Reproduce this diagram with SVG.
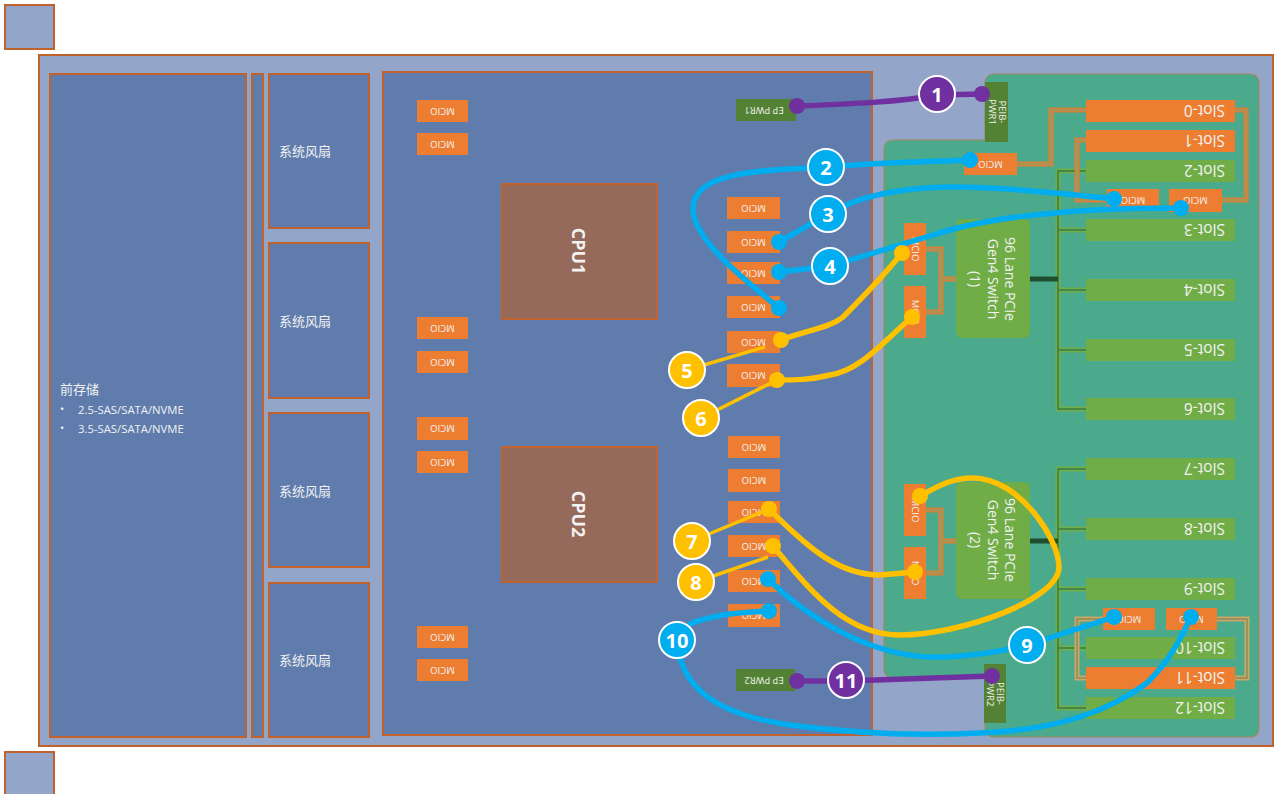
<svg xmlns="http://www.w3.org/2000/svg" width="1274" height="794" viewBox="0 0 1274 794">
<style>
text{font-family:"Open Sans","Noto Sans CJK SC",sans-serif;fill:#f2f2f2}
.box{stroke:#c0622d;stroke-width:2}
.light{fill:#93a5c8}
.mid{fill:#5f7cad}
.cpu{fill:#956a5a;stroke:#c0622d;stroke-width:2}
.o{fill:#ed7d31}
.g{fill:#70ad47}
.d{fill:#548235}
.c{text-anchor:middle;dominant-baseline:central}
.m{font-size:9.5px}
.s{font-size:15.500px;dominant-baseline:central}
.f{font-size:13px}
.sw{font-size:14px;text-anchor:middle}
.lab{font-size:20px;font-weight:700;fill:#fff;text-anchor:middle;dominant-baseline:central}
.ring{stroke:#fff;stroke-width:2}
.t{fill:none;stroke-width:5}
.ti{fill:none;stroke-width:1.500}
.conn{fill:none;stroke-width:5.500;stroke-linecap:round}
.thin{fill:none;stroke-width:3.500}
.pu{stroke:#7030a0}.bl{stroke:#00adef}.ye{stroke:#ffc000}
.fpu{fill:#7030a0}.fbl{fill:#00adef}.fye{fill:#ffc000}
</style>
<g id="chassis-marks">
<rect class="box light" x="5" y="5" width="49" height="44"/>
<rect class="box light" x="5" y="752" width="49" height="50"/>
</g>
<g id="chassis"><rect class="box light" x="39" y="55" width="1234" height="691"/></g>
<g id="front-storage">
<rect class="box mid" x="50" y="74" width="196" height="663"/>
<text x="60" y="394" class="f">前存储</text>
<text x="60" y="413" font-size="11.300">•</text>
<text x="78" y="413.500" font-size="11.300">2.5-SAS/SATA/NVME</text>
<text x="60" y="432" font-size="11.300">•</text>
<text x="78" y="432.500" font-size="11.300">3.5-SAS/SATA/NVME</text>
</g>
<g id="divider"><rect class="box mid" x="252" y="74" width="11" height="663"/></g>
<g id="fan-1"><rect class="box mid" x="269" y="74" width="100" height="154"/><text x="279" y="156" class="f">系统风扇</text></g>
<g id="fan-2"><rect class="box mid" x="269" y="243" width="100" height="155"/><text x="279" y="326" class="f">系统风扇</text></g>
<g id="fan-3"><rect class="box mid" x="269" y="413" width="100" height="154"/><text x="279" y="496" class="f">系统风扇</text></g>
<g id="fan-4"><rect class="box mid" x="269" y="583" width="100" height="154"/><text x="279" y="665" class="f">系统风扇</text></g>
<g id="cpu-board"><rect class="box mid" x="383" y="72" width="489" height="663"/></g>
<g id="cpu1"><rect class="cpu" x="502" y="184" width="155" height="135"/><text transform="translate(579 251) rotate(90)" class="c" font-size="18" font-weight="700" fill="#fff">CPU1</text></g>
<g id="cpu2"><rect class="cpu" x="502" y="447" width="155" height="135"/><text transform="translate(579 514) rotate(90)" class="c" font-size="18" font-weight="700" fill="#fff">CPU2</text></g>

<g id="cpu-mcio">
<g id="mcio-l1"><rect class="o" x="417" y="100" width="51" height="22"/><text transform="translate(442.500 111) rotate(180)" class="c m">MCIO</text></g>
<g id="mcio-l2"><rect class="o" x="417" y="133" width="51" height="22"/><text transform="translate(442.500 144) rotate(180)" class="c m">MCIO</text></g>
<g id="mcio-l3"><rect class="o" x="417" y="317" width="51" height="22"/><text transform="translate(442.500 328) rotate(180)" class="c m">MCIO</text></g>
<g id="mcio-l4"><rect class="o" x="417" y="351" width="51" height="22"/><text transform="translate(442.500 362) rotate(180)" class="c m">MCIO</text></g>
<g id="mcio-l5"><rect class="o" x="417" y="417" width="51" height="23"/><text transform="translate(442.500 428.500) rotate(180)" class="c m">MCIO</text></g>
<g id="mcio-l6"><rect class="o" x="417" y="451" width="51" height="22"/><text transform="translate(442.500 462) rotate(180)" class="c m">MCIO</text></g>
<g id="mcio-l7"><rect class="o" x="417" y="626" width="51" height="22"/><text transform="translate(442.500 637) rotate(180)" class="c m">MCIO</text></g>
<g id="mcio-l8"><rect class="o" x="417" y="659" width="51" height="22"/><text transform="translate(442.500 670) rotate(180)" class="c m">MCIO</text></g>
<g id="mcio-m1"><rect class="o" x="727" y="197" width="53" height="22"/><text transform="translate(753.500 208) rotate(180)" class="c m">MCIO</text></g>
<g id="mcio-m2"><rect class="o" x="727" y="231" width="53" height="22"/><text transform="translate(753.500 242) rotate(180)" class="c m">MCIO</text></g>
<g id="mcio-m3"><rect class="o" x="727" y="262" width="53" height="22"/><text transform="translate(753.500 273) rotate(180)" class="c m">MCIO</text></g>
<g id="mcio-m4"><rect class="o" x="727" y="296" width="53" height="22"/><text transform="translate(753.500 307) rotate(180)" class="c m">MCIO</text></g>
<g id="mcio-m5"><rect class="o" x="727" y="331" width="53" height="22"/><text transform="translate(753.500 342) rotate(180)" class="c m">MCIO</text></g>
<g id="mcio-m6"><rect class="o" x="727" y="364" width="53" height="23"/><text transform="translate(753.500 375.500) rotate(180)" class="c m">MCIO</text></g>
<g id="mcio-m7"><rect class="o" x="728" y="436" width="52" height="22"/><text transform="translate(754 447) rotate(180)" class="c m">MCIO</text></g>
<g id="mcio-m8"><rect class="o" x="728" y="469" width="52" height="23"/><text transform="translate(754 480.500) rotate(180)" class="c m">MCIO</text></g>
<g id="mcio-m9"><rect class="o" x="728" y="501" width="52" height="22"/><text transform="translate(754 512) rotate(180)" class="c m">MCIO</text></g>
<g id="mcio-m10"><rect class="o" x="728" y="535" width="52" height="22"/><text transform="translate(754 546) rotate(180)" class="c m">MCIO</text></g>
<g id="mcio-m11"><rect class="o" x="728" y="570" width="52" height="22"/><text transform="translate(754 581) rotate(180)" class="c m">MCIO</text></g>
<g id="mcio-m12"><rect class="o" x="728" y="604" width="52" height="23"/><text transform="translate(754 615.500) rotate(180)" class="c m">MCIO</text></g>
</g>
<g id="ep-pwr1"><rect class="d" x="736" y="99" width="60" height="22"/><text transform="translate(764 110) rotate(180)" class="c m">EP PWR1</text></g>
<g id="ep-pwr2"><rect class="d" x="736" y="669" width="59" height="22"/><text transform="translate(764 680) rotate(180)" class="c m">EP PWR2</text></g>

<g id="riser-board"><path d="M884 150q0-10 10-10H985V84q0-10 10-10H1249q10 0 10 10V727q0 10-10 10H995q-10 0-10-10V678H894q-10 0-10-10Z" fill="#4aaa8b" stroke="#a08a5c" stroke-width="1.200"/></g>
<g id="peib-pwr1"><rect class="d" x="985" y="82" width="23" height="60"/><text transform="translate(996.500 112) rotate(90)" class="m" text-anchor="middle"><tspan x="0" y="-2">PEIB-</tspan><tspan x="0" y="8">PWR1</tspan></text></g>
<g id="peib-pwr2"><rect class="d" x="984" y="664" width="22" height="59"/><text transform="translate(995 693.500) rotate(90)" class="m" text-anchor="middle"><tspan x="0" y="-2">PEIB-</tspan><tspan x="0" y="8">PWR2</tspan></text></g>

<g id="traces">
<path class="t" stroke="#6fae4c" d="M1086 171H1058V409H1086M1058 230H1086M1058 290H1086M1058 350H1086M1086 469H1058V708H1086M1058 529H1086M1058 589H1086M1058 648H1086"/>
<path class="ti" stroke="#3a7a45" d="M1086 171H1058V409H1086M1058 230H1086M1058 290H1086M1058 350H1086M1086 469H1058V708H1086M1058 529H1086M1058 589H1086M1058 648H1086"/>
<path class="t" stroke="#1f4f2f" d="M1029 279H1058M1029 541H1058"/>
<path class="t" stroke="#d9803a" d="M1086 110H1051V164H1017M1235 110H1246V200H1222M1086 140H1077V200H1107M956 279H941M926 249H941V312H926M956 541H941M926 510H941V573H926"/>
<path class="ti" stroke="#9a9a5e" d="M1086 110H1051V164H1017M1235 110H1246V200H1222M1086 140H1077V200H1107M956 279H941M926 249H941V312H926M956 541H941M926 510H941V573H926"/>
<path class="t" stroke="#c9a868" d="M1086 678H1077V619H1103M1235 678H1247V619H1217"/>
<path class="ti" stroke="#8f8a58" d="M1086 678H1077V619H1103M1235 678H1247V619H1217"/>
</g>

<g id="board-mcio">
<g id="mcio-b1"><rect class="o" x="964" y="153" width="53" height="22"/><text transform="translate(990.500 164) rotate(180)" class="c m">MCIO</text></g>
<g id="mcio-b2"><rect class="o" x="1107" y="189" width="52" height="20"/><text transform="translate(1133 200) rotate(180)" class="c m">MCIO</text></g>
<g id="mcio-b3"><rect class="o" x="1169" y="189" width="53" height="23"/><text transform="translate(1195.500 200) rotate(180)" class="c m">MCIO</text></g>
<g id="mcio-b4"><rect class="o" x="904" y="223" width="22" height="52"/><text transform="translate(915 249) rotate(90)" class="c m">MCIO</text></g>
<g id="mcio-b5"><rect class="o" x="904" y="286" width="22" height="52"/><text transform="translate(915 312) rotate(90)" class="c m">MCIO</text></g>
<g id="mcio-b6"><rect class="o" x="904" y="484" width="22" height="52"/><text transform="translate(915 510) rotate(90)" class="c m">MCIO</text></g>
<g id="mcio-b7"><rect class="o" x="904" y="547" width="22" height="52"/><text transform="translate(915 573) rotate(90)" class="c m">MCIO</text></g>
<g id="mcio-b8"><rect class="o" x="1103" y="608" width="52" height="22"/><text transform="translate(1129 619) rotate(180)" class="c m">MCIO</text></g>
<g id="mcio-b9"><rect class="o" x="1166" y="608" width="51" height="22"/><text transform="translate(1191.500 619) rotate(180)" class="c m">MCIO</text></g>
</g>

<g id="switch-1"><rect class="g" x="956" y="219" width="74" height="119" rx="6"/>
<text transform="translate(993 279) rotate(90)" class="sw"><tspan x="0" y="-12">96 Lane PCIe</tspan><tspan x="0" y="5">Gen4 Switch</tspan><tspan x="0" y="23">(1)</tspan></text></g>
<g id="switch-2"><rect class="g" x="956" y="482" width="74" height="117" rx="6"/>
<text transform="translate(993 540) rotate(90)" class="sw"><tspan x="0" y="-12">96 Lane PCIe</tspan><tspan x="0" y="5">Gen4 Switch</tspan><tspan x="0" y="23">(2)</tspan></text></g>

<g id="slots">
<g id="slot-0"><rect class="o" x="1086" y="100" width="149" height="22"/><text transform="translate(1225 111) rotate(180)" class="s">Slot-0</text></g>
<g id="slot-1"><rect class="o" x="1086" y="130" width="149" height="22"/><text transform="translate(1225 141) rotate(180)" class="s">Slot-1</text></g>
<g id="slot-2"><rect class="g" x="1086" y="160" width="149" height="22"/><text transform="translate(1225 171) rotate(180)" class="s">Slot-2</text></g>
<g id="slot-3"><rect class="g" x="1086" y="219" width="149" height="22"/><text transform="translate(1225 230) rotate(180)" class="s">Slot-3</text></g>
<g id="slot-4"><rect class="g" x="1086" y="279" width="149" height="22"/><text transform="translate(1225 290) rotate(180)" class="s">Slot-4</text></g>
<g id="slot-5"><rect class="g" x="1086" y="339" width="149" height="22"/><text transform="translate(1225 350) rotate(180)" class="s">Slot-5</text></g>
<g id="slot-6"><rect class="g" x="1086" y="398" width="149" height="22"/><text transform="translate(1225 409) rotate(180)" class="s">Slot-6</text></g>
<g id="slot-7"><rect class="g" x="1086" y="458" width="149" height="22"/><text transform="translate(1225 469) rotate(180)" class="s">Slot-7</text></g>
<g id="slot-8"><rect class="g" x="1086" y="518" width="149" height="22"/><text transform="translate(1225 529) rotate(180)" class="s">Slot-8</text></g>
<g id="slot-9"><rect class="g" x="1086" y="578" width="149" height="22"/><text transform="translate(1225 589) rotate(180)" class="s">Slot-9</text></g>
<g id="slot-10"><rect class="g" x="1086" y="637" width="149" height="22"/><text transform="translate(1225 648) rotate(180)" class="s">Slot-10</text></g>
<g id="slot-11"><rect class="o" x="1086" y="667" width="149" height="22"/><text transform="translate(1225 678) rotate(180)" class="s">Slot-11</text></g>
<g id="slot-12"><rect class="g" x="1086" y="697" width="149" height="22"/><text transform="translate(1225 708) rotate(180)" class="s">Slot-12</text></g>
</g>

<g id="connectors">
<path class="conn pu" d="M797 106C850 104 900 102 937 95L982 94"/>
<path class="conn pu" d="M797 681H846L992 676"/>
<path class="conn bl" d="M970 160C920 162 870 163 826 167C770 170 693 170 693 208C693 240 745 280 779 308"/>
<path class="conn bl" d="M1114 199C1060 193 990 186 947 187C900 188 860 195 828 214L779 242"/>
<path class="conn bl" d="M1181 208C1100 208 1000 212 930 236C890 248 860 257 830 266L779 272"/>
<path class="conn ye" d="M902 253C880 280 860 300 843 317C830 328 800 332 781 340"/>
<path class="thin ye" d="M765 347L687 370"/>
<path class="conn ye" d="M912 317C880 345 860 370 830 375C810 380 795 380 777 380"/>
<path class="thin ye" d="M777 380L701 418"/>
<path class="conn ye" d="M769 509C810 550 840 575 880 575L915 572"/>
<path class="thin ye" d="M769 509L692 541"/>
<path class="conn ye" d="M773 546C810 590 845 635 900 635C960 635 1059 600 1059 567C1059 540 1020 478 973 478C950 478 935 488 920 496"/>
<path class="thin ye" d="M768 557L696 582"/>
<path class="conn bl" d="M1114 617L1027 645C1000 652 960 658 930 657C870 655 810 620 768 579"/>
<path class="conn bl" d="M769 611C740 612 710 615 690 624L677 640C680 690 720 715 790 725C850 733 920 736 980 733C1060 730 1110 710 1147 683C1170 660 1180 640 1191 617"/>
<g class="fpu"><circle cx="797" cy="106" r="8"/><circle cx="982" cy="94" r="8"/><circle cx="797" cy="681" r="8"/><circle cx="992" cy="676" r="8"/></g>
<g class="fbl"><circle cx="970" cy="160" r="8"/><circle cx="779" cy="308" r="8"/><circle cx="1114" cy="199" r="8"/><circle cx="779" cy="242" r="8"/><circle cx="1181" cy="208" r="8"/><circle cx="779" cy="272" r="8"/><circle cx="1114" cy="617" r="8"/><circle cx="768" cy="579" r="8"/><circle cx="769" cy="611" r="8"/><circle cx="1191" cy="617" r="8"/></g>
<g class="fye"><circle cx="902" cy="253" r="8"/><circle cx="781" cy="340" r="8"/><circle cx="912" cy="317" r="8"/><circle cx="777" cy="380" r="8"/><circle cx="769" cy="509" r="8"/><circle cx="915" cy="572" r="8"/><circle cx="773" cy="546" r="8"/><circle cx="920" cy="496" r="8"/></g>
</g>

<g id="label-1"><circle class="ring fpu" cx="937" cy="94" r="18"/><text class="lab" x="937" y="94">1</text></g>
<g id="label-2"><circle class="ring fbl" cx="826" cy="167" r="18"/><text class="lab" x="826" y="167">2</text></g>
<g id="label-3"><circle class="ring fbl" cx="828" cy="214" r="18"/><text class="lab" x="828" y="214">3</text></g>
<g id="label-4"><circle class="ring fbl" cx="830" cy="266" r="18"/><text class="lab" x="830" y="266">4</text></g>
<g id="label-5"><circle class="ring fye" cx="687" cy="370" r="18"/><text class="lab" x="687" y="370">5</text></g>
<g id="label-6"><circle class="ring fye" cx="701" cy="418" r="18"/><text class="lab" x="701" y="418">6</text></g>
<g id="label-7"><circle class="ring fye" cx="692" cy="541" r="18"/><text class="lab" x="692" y="541">7</text></g>
<g id="label-8"><circle class="ring fye" cx="696" cy="582" r="18"/><text class="lab" x="696" y="582">8</text></g>
<g id="label-9"><circle class="ring fbl" cx="1027" cy="645" r="18"/><text class="lab" x="1027" y="645">9</text></g>
<g id="label-10"><circle class="ring fbl" cx="677" cy="640" r="18"/><text class="lab" x="677" y="640">10</text></g>
<g id="label-11"><circle class="ring fpu" cx="846" cy="680" r="18"/><text class="lab" x="846" y="680">11</text></g>
</svg>
